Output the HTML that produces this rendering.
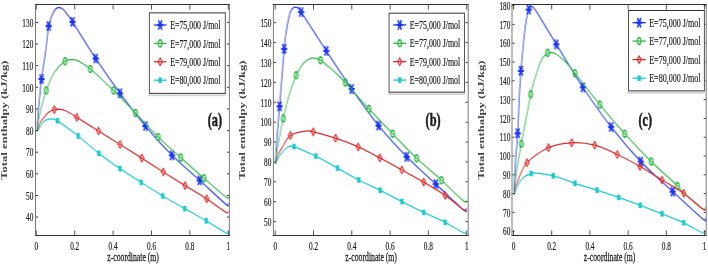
<!DOCTYPE html>
<html><head><meta charset="utf-8"><style>
html,body{margin:0;padding:0;background:#fff;width:708px;height:266px;overflow:hidden}
svg{display:block;filter:blur(0.3px)}
g{will-change:transform}
text{font-family:"Liberation Serif",serif;fill:#1a1a1a;stroke:#1a1a1a;stroke-width:0.2}
</style></head><body>
<svg width="708" height="266" viewBox="0 0 708 266" xmlns="http://www.w3.org/2000/svg">
<rect width="708" height="266" fill="#fff"/>
<g transform="scale(0.625,1)">
<path d="M59.52,131.4C59.63,129.67 59.79,124.9 60.16,121C60.53,117.1 61.17,112.33 61.76,108C62.35,103.67 62.91,99.83 63.68,95C64.45,90.17 64.8,86.5 66.4,79C68,71.5 71.36,58.83 73.28,50C75.2,41.17 76.53,31.33 77.92,26C79.31,20.67 80.35,20.28 81.6,18C82.85,15.72 84.16,13.82 85.44,12.3C86.72,10.78 87.89,9.67 89.28,8.9C90.67,8.13 91.89,7.68 93.76,7.7C95.63,7.72 98.11,7.83 100.48,9C102.85,10.17 105.41,12.57 108,14.7C110.59,16.83 108.48,14.5 116,21.8C123.52,29.1 140.45,46.58 153.12,58.5C165.79,70.42 178.75,82.05 192,93.3C205.25,104.55 218.77,115.67 232.64,126C246.51,136.33 260.72,146.25 275.2,155.3C289.68,164.35 305.15,172.13 319.52,180.3C333.89,188.47 353.84,200.48 361.44,204.3C369.04,208.12 364.51,203.38 365.12,203.2" stroke="#1c34f2" stroke-width="1.3" fill="none" stroke-linejoin="round"/>
<path d="M61.6,79L71.2,79M63.68,74.2L69.12,83.8M63.68,83.8L69.12,74.2" stroke="#1c34f2" stroke-width="2.3" fill="none"/>
<path d="M73.12,26L82.72,26M75.2,21.2L80.64,30.8M75.2,30.8L80.64,21.2" stroke="#1c34f2" stroke-width="2.3" fill="none"/>
<path d="M111.2,21.8L120.8,21.8M113.28,17L118.72,26.6M113.28,26.6L118.72,17" stroke="#1c34f2" stroke-width="2.3" fill="none"/>
<path d="M148.32,58.5L157.92,58.5M150.4,53.7L155.84,63.3M150.4,63.3L155.84,53.7" stroke="#1c34f2" stroke-width="2.3" fill="none"/>
<path d="M187.2,93.3L196.8,93.3M189.28,88.5L194.72,98.1M189.28,98.1L194.72,88.5" stroke="#1c34f2" stroke-width="2.3" fill="none"/>
<path d="M227.84,126L237.44,126M229.92,121.2L235.36,130.8M229.92,130.8L235.36,121.2" stroke="#1c34f2" stroke-width="2.3" fill="none"/>
<path d="M270.4,155.3L280,155.3M272.48,150.5L277.92,160.1M272.48,160.1L277.92,150.5" stroke="#1c34f2" stroke-width="2.3" fill="none"/>
<path d="M314.72,180.3L324.32,180.3M316.8,175.5L322.24,185.1M316.8,185.1L322.24,175.5" stroke="#1c34f2" stroke-width="2.3" fill="none"/>
<path d="M59.52,131.4C59.79,129.83 60.21,125.57 61.12,122C62.03,118.43 62.83,115.25 64.96,110C67.09,104.75 70.32,96.73 73.92,90.5C77.52,84.27 81.55,77.48 86.56,72.6C91.57,67.72 99.36,63.37 104,61.2C108.64,59.03 110.93,59.67 114.4,59.6C117.87,59.53 119.79,59.23 124.8,60.8C129.81,62.37 135.01,64.05 144.48,69C153.95,73.95 169.55,83.15 181.6,90.5C193.65,97.85 204.91,105.35 216.8,113.1C228.69,120.85 240.91,129.58 252.96,137C265.01,144.42 276.91,150.73 289.12,157.6C301.33,164.47 314.05,171.57 326.24,178.2C338.43,184.83 355.65,194.38 362.24,197.4C368.83,200.42 365.17,196.48 365.76,196.3" stroke="#2cba44" stroke-width="1.3" fill="none" stroke-linejoin="round"/>
<ellipse cx="73.92" cy="90.5" rx="3.04" ry="3.4" stroke="#2cba44" stroke-width="1.8" fill="none"/>
<ellipse cx="104" cy="61.2" rx="3.04" ry="3.4" stroke="#2cba44" stroke-width="1.8" fill="none"/>
<ellipse cx="144.48" cy="69" rx="3.04" ry="3.4" stroke="#2cba44" stroke-width="1.8" fill="none"/>
<ellipse cx="181.6" cy="90.5" rx="3.04" ry="3.4" stroke="#2cba44" stroke-width="1.8" fill="none"/>
<ellipse cx="216.8" cy="113.1" rx="3.04" ry="3.4" stroke="#2cba44" stroke-width="1.8" fill="none"/>
<ellipse cx="252.96" cy="137" rx="3.04" ry="3.4" stroke="#2cba44" stroke-width="1.8" fill="none"/>
<ellipse cx="289.12" cy="157.6" rx="3.04" ry="3.4" stroke="#2cba44" stroke-width="1.8" fill="none"/>
<ellipse cx="326.24" cy="178.2" rx="3.04" ry="3.4" stroke="#2cba44" stroke-width="1.8" fill="none"/>
<path d="M59.52,131.4C60.37,129.87 62.83,124.48 64.64,122.2C66.45,119.92 68.24,119.33 70.4,117.7C72.56,116.07 74.85,113.75 77.6,112.4C80.35,111.05 83.81,110.1 86.88,109.6C89.95,109.1 92.88,109.17 96,109.4C99.12,109.63 101.12,109.68 105.6,111C110.08,112.32 114.21,113.97 122.88,117.3C131.55,120.63 146.08,126.47 157.6,131C169.12,135.53 180.45,139.98 192,144.5C203.55,149.02 215.33,153.52 226.88,158.1C238.43,162.68 249.76,167.42 261.28,172C272.8,176.58 284.43,181.13 296,185.6C307.57,190.07 319.89,194.37 330.72,198.8C341.55,203.23 355.23,210.13 360.96,212.2C366.69,214.27 364.43,211.37 365.12,211.2" stroke="#de2626" stroke-width="1.3" fill="none" stroke-linejoin="round"/>
<path d="M86.88,105.9L90.08,109.6L86.88,113.3L83.68,109.6Z" stroke="#de2626" stroke-width="1.5" fill="none"/>
<path d="M122.88,113.6L126.08,117.3L122.88,121L119.68,117.3Z" stroke="#de2626" stroke-width="1.5" fill="none"/>
<path d="M157.6,127.3L160.8,131L157.6,134.7L154.4,131Z" stroke="#de2626" stroke-width="1.5" fill="none"/>
<path d="M192,140.8L195.2,144.5L192,148.2L188.8,144.5Z" stroke="#de2626" stroke-width="1.5" fill="none"/>
<path d="M226.88,154.4L230.08,158.1L226.88,161.8L223.68,158.1Z" stroke="#de2626" stroke-width="1.5" fill="none"/>
<path d="M261.28,168.3L264.48,172L261.28,175.7L258.08,172Z" stroke="#de2626" stroke-width="1.5" fill="none"/>
<path d="M296,181.9L299.2,185.6L296,189.3L292.8,185.6Z" stroke="#de2626" stroke-width="1.5" fill="none"/>
<path d="M330.72,195.1L333.92,198.8L330.72,202.5L327.52,198.8Z" stroke="#de2626" stroke-width="1.5" fill="none"/>
<path d="M59.52,131.4C60.27,130.67 62.45,128.52 64,127C65.55,125.48 67.07,123.48 68.8,122.3C70.53,121.12 72.13,120.48 74.4,119.9C76.67,119.32 79.47,118.65 82.4,118.8C85.33,118.95 88.4,119.58 92,120.8C95.6,122.02 98.48,123.57 104,126.1C109.52,128.63 116.11,131.47 125.12,136C134.13,140.53 146.93,147.87 158.08,153.3C169.23,158.73 180.69,163.75 192,168.6C203.31,173.45 214.53,177.83 225.92,182.4C237.31,186.97 248.72,191.62 260.32,196C271.92,200.38 283.92,204.57 295.52,208.7C307.12,212.83 318.8,216.73 329.92,220.8C341.04,224.87 356.21,231.4 362.24,233.1C368.27,234.8 365.44,231.35 366.08,231" stroke="#18cacd" stroke-width="1.3" fill="none" stroke-linejoin="round"/>
<rect x="89.36" y="118" width="5.28" height="5.6" fill="#18cacd"/>
<rect x="122.48" y="133.2" width="5.28" height="5.6" fill="#18cacd"/>
<rect x="155.44" y="150.5" width="5.28" height="5.6" fill="#18cacd"/>
<rect x="189.36" y="165.8" width="5.28" height="5.6" fill="#18cacd"/>
<rect x="223.28" y="179.6" width="5.28" height="5.6" fill="#18cacd"/>
<rect x="257.68" y="193.2" width="5.28" height="5.6" fill="#18cacd"/>
<rect x="292.88" y="205.9" width="5.28" height="5.6" fill="#18cacd"/>
<rect x="327.28" y="218" width="5.28" height="5.6" fill="#18cacd"/>
<path d="M440.96,163.9C441.04,162.25 441.01,158.82 441.44,154C441.87,149.18 442.53,142.95 443.52,135C444.51,127.05 445.49,120.67 447.36,106.3C449.23,91.93 452.96,61.18 454.72,48.8C456.48,36.42 456.77,36.97 457.92,32C459.07,27.03 460.4,22.47 461.6,19C462.8,15.53 463.84,13.07 465.12,11.2C466.4,9.33 467.73,8.45 469.28,7.8C470.83,7.15 472.93,7.17 474.4,7.3C475.87,7.43 476.85,7.82 478.08,8.6C479.31,9.38 474.43,4.95 481.76,12C489.09,19.05 508.59,38.05 522.08,50.9C535.57,63.75 548.8,76.65 562.72,89.1C576.64,101.55 590.93,114.32 605.6,125.6C620.27,136.88 635.44,147.05 650.72,156.8C666,166.55 682.13,175.25 697.28,184.1C712.43,192.95 733.47,205.88 741.6,209.9C749.73,213.92 745.33,208.48 746.08,208.2" stroke="#1c34f2" stroke-width="1.3" fill="none" stroke-linejoin="round"/>
<path d="M442.56,106.3L452.16,106.3M444.64,101.5L450.08,111.1M444.64,111.1L450.08,101.5" stroke="#1c34f2" stroke-width="2.3" fill="none"/>
<path d="M449.92,48.8L459.52,48.8M452,44L457.44,53.6M452,53.6L457.44,44" stroke="#1c34f2" stroke-width="2.3" fill="none"/>
<path d="M476.96,12L486.56,12M479.04,7.2L484.48,16.8M479.04,16.8L484.48,7.2" stroke="#1c34f2" stroke-width="2.3" fill="none"/>
<path d="M517.28,50.9L526.88,50.9M519.36,46.1L524.8,55.7M519.36,55.7L524.8,46.1" stroke="#1c34f2" stroke-width="2.3" fill="none"/>
<path d="M557.92,89.1L567.52,89.1M560,84.3L565.44,93.9M560,93.9L565.44,84.3" stroke="#1c34f2" stroke-width="2.3" fill="none"/>
<path d="M600.8,125.6L610.4,125.6M602.88,120.8L608.32,130.4M602.88,130.4L608.32,120.8" stroke="#1c34f2" stroke-width="2.3" fill="none"/>
<path d="M645.92,156.8L655.52,156.8M648,152L653.44,161.6M648,161.6L653.44,152" stroke="#1c34f2" stroke-width="2.3" fill="none"/>
<path d="M692.48,184.1L702.08,184.1M694.56,179.3L700,188.9M694.56,188.9L700,179.3" stroke="#1c34f2" stroke-width="2.3" fill="none"/>
<path d="M440.96,163.9C441.2,162.25 441.52,157.98 442.4,154C443.28,150.02 444.43,145.93 446.24,140C448.05,134.07 450.56,125.9 453.28,118.4C456,110.9 459.12,102.2 462.56,95C466,87.8 471.01,79.67 473.92,75.2C476.83,70.73 477.97,70.25 480,68.2C482.03,66.15 483.81,64.38 486.08,62.9C488.35,61.42 491.09,60.15 493.6,59.3C496.11,58.45 497.92,57.65 501.12,57.8C504.32,57.95 508.99,58.87 512.8,60.2C516.61,61.53 520.13,63.78 524,65.8C527.87,67.82 531.23,69.5 536,72.3C540.77,75.1 543.6,76.5 552.64,82.6C561.68,88.7 577.65,100.37 590.24,108.9C602.83,117.43 615.44,125.58 628.16,133.8C640.88,142.02 653.52,150.47 666.56,158.2C679.6,165.93 694.03,173.13 706.4,180.2C718.77,187.27 734.19,197.27 740.8,200.6C747.41,203.93 745.2,200.27 746.08,200.2" stroke="#2cba44" stroke-width="1.3" fill="none" stroke-linejoin="round"/>
<ellipse cx="453.28" cy="118.4" rx="3.04" ry="3.4" stroke="#2cba44" stroke-width="1.8" fill="none"/>
<ellipse cx="473.76" cy="75.3" rx="3.04" ry="3.4" stroke="#2cba44" stroke-width="1.8" fill="none"/>
<ellipse cx="512.8" cy="60.2" rx="3.04" ry="3.4" stroke="#2cba44" stroke-width="1.8" fill="none"/>
<ellipse cx="552.64" cy="82.6" rx="3.04" ry="3.4" stroke="#2cba44" stroke-width="1.8" fill="none"/>
<ellipse cx="590.24" cy="108.9" rx="3.04" ry="3.4" stroke="#2cba44" stroke-width="1.8" fill="none"/>
<ellipse cx="628.16" cy="133.8" rx="3.04" ry="3.4" stroke="#2cba44" stroke-width="1.8" fill="none"/>
<ellipse cx="666.56" cy="158.2" rx="3.04" ry="3.4" stroke="#2cba44" stroke-width="1.8" fill="none"/>
<ellipse cx="706.4" cy="180.2" rx="3.04" ry="3.4" stroke="#2cba44" stroke-width="1.8" fill="none"/>
<path d="M440.96,163.9C441.68,162.25 443.71,156.57 445.28,154C446.85,151.43 447.17,151.6 450.4,148.5C453.63,145.4 458.29,138.3 464.64,135.4C470.99,132.5 482.4,131.7 488.48,131.1C494.56,130.5 493.04,130.62 501.12,131.8C509.2,132.98 524.96,135.68 536.96,138.2C548.96,140.72 561.31,143.62 573.12,146.9C584.93,150.18 596.19,154.05 607.84,157.9C619.49,161.75 631.36,165.97 643.04,170C654.72,174.03 666.37,177.87 677.92,182.1C689.47,186.33 701.71,190.82 712.32,195.4C722.93,199.98 735.97,207.5 741.6,209.6C747.23,211.7 745.33,208.27 746.08,208" stroke="#de2626" stroke-width="1.3" fill="none" stroke-linejoin="round"/>
<path d="M464.64,131.7L467.84,135.4L464.64,139.1L461.44,135.4Z" stroke="#de2626" stroke-width="1.5" fill="none"/>
<path d="M501.12,128.1L504.32,131.8L501.12,135.5L497.92,131.8Z" stroke="#de2626" stroke-width="1.5" fill="none"/>
<path d="M536.96,134.5L540.16,138.2L536.96,141.9L533.76,138.2Z" stroke="#de2626" stroke-width="1.5" fill="none"/>
<path d="M573.12,143.2L576.32,146.9L573.12,150.6L569.92,146.9Z" stroke="#de2626" stroke-width="1.5" fill="none"/>
<path d="M607.84,154.2L611.04,157.9L607.84,161.6L604.64,157.9Z" stroke="#de2626" stroke-width="1.5" fill="none"/>
<path d="M643.04,166.3L646.24,170L643.04,173.7L639.84,170Z" stroke="#de2626" stroke-width="1.5" fill="none"/>
<path d="M677.92,178.4L681.12,182.1L677.92,185.8L674.72,182.1Z" stroke="#de2626" stroke-width="1.5" fill="none"/>
<path d="M712.32,191.7L715.52,195.4L712.32,199.1L709.12,195.4Z" stroke="#de2626" stroke-width="1.5" fill="none"/>
<path d="M440.96,163.9C442.24,162.35 445.6,157.33 448.64,154.6C451.68,151.87 456.16,148.93 459.2,147.5C462.24,146.07 464.99,146.15 466.88,146C468.77,145.85 464.16,144.92 470.56,146.6C476.96,148.28 493.71,152.52 505.28,156.1C516.85,159.68 528.56,164.12 540,168.1C551.44,172.08 562.53,176.3 573.92,180C585.31,183.7 596.8,186.7 608.32,190.3C619.84,193.9 631.44,197.92 643.04,201.6C654.64,205.28 666.37,208.95 677.92,212.4C689.47,215.85 701.65,218.88 712.32,222.3C722.99,225.72 736.21,231.4 741.92,232.9C747.63,234.4 745.79,231.57 746.56,231.3" stroke="#18cacd" stroke-width="1.3" fill="none" stroke-linejoin="round"/>
<rect x="467.92" y="143.8" width="5.28" height="5.6" fill="#18cacd"/>
<rect x="502.64" y="153.3" width="5.28" height="5.6" fill="#18cacd"/>
<rect x="537.36" y="165.3" width="5.28" height="5.6" fill="#18cacd"/>
<rect x="571.28" y="177.2" width="5.28" height="5.6" fill="#18cacd"/>
<rect x="605.68" y="187.5" width="5.28" height="5.6" fill="#18cacd"/>
<rect x="640.4" y="198.8" width="5.28" height="5.6" fill="#18cacd"/>
<rect x="675.28" y="209.6" width="5.28" height="5.6" fill="#18cacd"/>
<rect x="709.68" y="219.5" width="5.28" height="5.6" fill="#18cacd"/>
<path d="M822.72,195C822.75,193.5 822.51,191.83 822.88,186C823.25,180.17 824.05,168.78 824.96,160C825.87,151.22 827.31,144.13 828.32,133.3C829.33,122.47 830.19,105.42 831.04,95C831.89,84.58 832.4,79.13 833.44,70.8C834.48,62.47 836.29,51.47 837.28,45C838.27,38.53 838.56,36.17 839.36,32C840.16,27.83 841.04,23.58 842.08,20C843.12,16.42 844.4,12.73 845.6,10.5C846.8,8.27 847.95,7.05 849.28,6.6C850.61,6.15 851.81,6.68 853.6,7.8C855.39,8.92 857.12,10.52 860,13.3C862.88,16.08 865.87,19.33 870.88,24.5C875.89,29.67 879.79,33.82 890.08,44.3C900.37,54.78 918.03,73.62 932.64,87.4C947.25,101.18 962.32,114.63 977.76,127C993.2,139.37 1008.85,150.83 1025.28,161.6C1041.71,172.37 1059.65,181.97 1076.32,191.6C1092.99,201.23 1116.67,214.97 1125.28,219.4C1133.89,223.83 1127.55,218.4 1128,218.2" stroke="#1c34f2" stroke-width="1.3" fill="none" stroke-linejoin="round"/>
<path d="M823.52,133.3L833.12,133.3M825.6,128.5L831.04,138.1M825.6,138.1L831.04,128.5" stroke="#1c34f2" stroke-width="2.3" fill="none"/>
<path d="M828.64,70.8L838.24,70.8M830.72,66L836.16,75.6M830.72,75.6L836.16,66" stroke="#1c34f2" stroke-width="2.3" fill="none"/>
<path d="M841.28,9.6L850.88,9.6M843.36,4.8L848.8,14.4M843.36,14.4L848.8,4.8" stroke="#1c34f2" stroke-width="2.3" fill="none"/>
<path d="M885.28,44.3L894.88,44.3M887.36,39.5L892.8,49.1M887.36,49.1L892.8,39.5" stroke="#1c34f2" stroke-width="2.3" fill="none"/>
<path d="M927.84,87.4L937.44,87.4M929.92,82.6L935.36,92.2M929.92,92.2L935.36,82.6" stroke="#1c34f2" stroke-width="2.3" fill="none"/>
<path d="M972.96,127L982.56,127M975.04,122.2L980.48,131.8M975.04,131.8L980.48,122.2" stroke="#1c34f2" stroke-width="2.3" fill="none"/>
<path d="M1020.48,161.6L1030.08,161.6M1022.56,156.8L1028,166.4M1022.56,166.4L1028,156.8" stroke="#1c34f2" stroke-width="2.3" fill="none"/>
<path d="M1071.52,191.6L1081.12,191.6M1073.6,186.8L1079.04,196.4M1073.6,196.4L1079.04,186.8" stroke="#1c34f2" stroke-width="2.3" fill="none"/>
<path d="M822.72,195C822.88,193.5 823.01,190.17 823.68,186C824.35,181.83 824.99,177.03 826.72,170C828.45,162.97 830.35,156.42 834.08,143.8C837.81,131.18 846,104.1 849.12,94.3C852.24,84.5 850.99,89.05 852.8,85C854.61,80.95 857.55,74.45 860,70C862.45,65.55 864.75,61.1 867.52,58.3C870.29,55.5 874.13,54.15 876.64,53.2C879.15,52.25 880.4,52.47 882.56,52.6C884.72,52.73 886.83,52.97 889.6,54C892.37,55.03 895.6,56.75 899.2,58.8C902.8,60.85 907.73,63.87 911.2,66.3C914.67,68.73 911.92,67.02 920,73.4C928.08,79.78 946.43,94.53 959.68,104.6C972.93,114.67 985.81,124.3 999.52,133.8C1013.23,143.3 1027.84,152.93 1041.92,161.6C1056,170.27 1075.33,180.57 1084,185.8C1092.67,191.03 1087.12,189.1 1093.92,193C1100.72,196.9 1119.12,206.73 1124.8,209.2C1130.48,211.67 1127.47,208.03 1128,207.8" stroke="#2cba44" stroke-width="1.3" fill="none" stroke-linejoin="round"/>
<ellipse cx="834.08" cy="143.8" rx="3.04" ry="3.4" stroke="#2cba44" stroke-width="1.8" fill="none"/>
<ellipse cx="849.12" cy="94.3" rx="3.04" ry="3.4" stroke="#2cba44" stroke-width="1.8" fill="none"/>
<ellipse cx="876.16" cy="52.9" rx="3.04" ry="3.4" stroke="#2cba44" stroke-width="1.8" fill="none"/>
<ellipse cx="920" cy="73.2" rx="3.04" ry="3.4" stroke="#2cba44" stroke-width="1.8" fill="none"/>
<ellipse cx="959.68" cy="104.6" rx="3.04" ry="3.4" stroke="#2cba44" stroke-width="1.8" fill="none"/>
<ellipse cx="999.52" cy="133.8" rx="3.04" ry="3.4" stroke="#2cba44" stroke-width="1.8" fill="none"/>
<ellipse cx="1041.92" cy="161.6" rx="3.04" ry="3.4" stroke="#2cba44" stroke-width="1.8" fill="none"/>
<ellipse cx="1084" cy="186" rx="3.04" ry="3.4" stroke="#2cba44" stroke-width="1.8" fill="none"/>
<path d="M822.72,195C823.2,193.5 824.24,189 825.6,186C826.96,183 827.95,180.88 830.88,177C833.81,173.12 835.44,167.58 843.2,162.7C850.96,157.82 865.55,151.02 877.44,147.7C889.33,144.38 902.21,143.22 914.56,142.8C926.91,142.38 939.33,143.25 951.52,145.2C963.71,147.15 975.63,150.97 987.68,154.5C999.73,158.03 1011.92,162.15 1023.84,166.4C1035.76,170.65 1047.52,175.52 1059.2,180C1070.88,184.48 1082.99,188.45 1093.92,193.3C1104.85,198.15 1119.12,206.7 1124.8,209.1C1130.48,211.5 1127.47,207.93 1128,207.7" stroke="#de2626" stroke-width="1.3" fill="none" stroke-linejoin="round"/>
<path d="M843.2,159L846.4,162.7L843.2,166.4L840,162.7Z" stroke="#de2626" stroke-width="1.5" fill="none"/>
<path d="M877.44,144L880.64,147.7L877.44,151.4L874.24,147.7Z" stroke="#de2626" stroke-width="1.5" fill="none"/>
<path d="M914.56,139.1L917.76,142.8L914.56,146.5L911.36,142.8Z" stroke="#de2626" stroke-width="1.5" fill="none"/>
<path d="M951.52,141.5L954.72,145.2L951.52,148.9L948.32,145.2Z" stroke="#de2626" stroke-width="1.5" fill="none"/>
<path d="M987.68,150.8L990.88,154.5L987.68,158.2L984.48,154.5Z" stroke="#de2626" stroke-width="1.5" fill="none"/>
<path d="M1023.84,162.7L1027.04,166.4L1023.84,170.1L1020.64,166.4Z" stroke="#de2626" stroke-width="1.5" fill="none"/>
<path d="M1059.2,176.3L1062.4,180L1059.2,183.7L1056,180Z" stroke="#de2626" stroke-width="1.5" fill="none"/>
<path d="M1093.92,189.6L1097.12,193.3L1093.92,197L1090.72,193.3Z" stroke="#de2626" stroke-width="1.5" fill="none"/>
<path d="M822.72,195C823.6,193.5 826.45,188.25 828,186C829.55,183.75 830.27,183 832,181.5C833.73,180 835.39,178.33 838.4,177C841.41,175.67 847.15,174.17 850.08,173.5C853.01,172.83 850.16,172.62 856,173C861.84,173.38 874.45,174.08 885.12,175.8C895.79,177.52 908.32,180.92 920,183.3C931.68,185.68 943.55,187.75 955.2,190.1C966.85,192.45 978.4,194.87 989.92,197.4C1001.44,199.93 1012.77,202.57 1024.32,205.3C1035.87,208.03 1047.6,210.88 1059.2,213.8C1070.8,216.72 1082.91,219.57 1093.92,222.8C1104.93,226.03 1119.55,231.68 1125.28,233.2C1131.01,234.72 1127.81,232.12 1128.32,231.9" stroke="#18cacd" stroke-width="1.3" fill="none" stroke-linejoin="round"/>
<rect x="847.44" y="170.7" width="5.28" height="5.6" fill="#18cacd"/>
<rect x="882.48" y="173" width="5.28" height="5.6" fill="#18cacd"/>
<rect x="917.36" y="180.5" width="5.28" height="5.6" fill="#18cacd"/>
<rect x="952.56" y="187.3" width="5.28" height="5.6" fill="#18cacd"/>
<rect x="987.28" y="194.6" width="5.28" height="5.6" fill="#18cacd"/>
<rect x="1021.68" y="202.5" width="5.28" height="5.6" fill="#18cacd"/>
<rect x="1056.56" y="211" width="5.28" height="5.6" fill="#18cacd"/>
<rect x="1091.28" y="220" width="5.28" height="5.6" fill="#18cacd"/>
</g>
<path d="M35,4.5H229.9M35,235.5H229.9" stroke="#333" stroke-width="1"/>
<path d="M35.5,5V235M229.4,5V235" stroke="#7a7a7a" stroke-width="1"/>
<path d="M36.3,235v-4.6M36.3,5v4.6" stroke="#555" stroke-width="1"/>
<path d="M74.7,235v-4.6M74.7,5v4.6" stroke="#555" stroke-width="1"/>
<path d="M113.1,235v-4.6M113.1,5v4.6" stroke="#555" stroke-width="1"/>
<path d="M151.5,235v-4.6M151.5,5v4.6" stroke="#555" stroke-width="1"/>
<path d="M189.9,235v-4.6M189.9,5v4.6" stroke="#555" stroke-width="1"/>
<path d="M228.3,235v-4.6M228.3,5v4.6" stroke="#555" stroke-width="1"/>
<path d="M36,217.1h2M228.9,217.1h-2" stroke="#333" stroke-width="1"/>
<path d="M36,195.46h2M228.9,195.46h-2" stroke="#333" stroke-width="1"/>
<path d="M36,173.83h2M228.9,173.83h-2" stroke="#333" stroke-width="1"/>
<path d="M36,152.2h2M228.9,152.2h-2" stroke="#333" stroke-width="1"/>
<path d="M36,130.56h2M228.9,130.56h-2" stroke="#333" stroke-width="1"/>
<path d="M36,108.93h2M228.9,108.93h-2" stroke="#333" stroke-width="1"/>
<path d="M36,87.3h2M228.9,87.3h-2" stroke="#333" stroke-width="1"/>
<path d="M36,65.67h2M228.9,65.67h-2" stroke="#333" stroke-width="1"/>
<path d="M36,44.03h2M228.9,44.03h-2" stroke="#333" stroke-width="1"/>
<path d="M36,22.4h2M228.9,22.4h-2" stroke="#333" stroke-width="1"/>
<rect x="147.9" y="94.6" width="77.9" height="1.5" fill="#cfcfcf"/>
<rect x="149.4" y="12.9" width="75.9" height="80.5" fill="#fff"/>
<path d="M148.9,12.9H225.8M148.9,93.4H225.8" stroke="#333" stroke-width="1"/>
<path d="M149.4,12.9V93.4M225.3,12.9V93.4" stroke="#555" stroke-width="1"/>
<path d="M272.9,4.5H468.7M272.9,235.5H468.7" stroke="#333" stroke-width="1"/>
<path d="M273.4,5V235M468.2,5V235" stroke="#7a7a7a" stroke-width="1"/>
<path d="M275.2,235v-4.6M275.2,5v4.6" stroke="#555" stroke-width="1"/>
<path d="M313.5,235v-4.6M313.5,5v4.6" stroke="#555" stroke-width="1"/>
<path d="M351.8,235v-4.6M351.8,5v4.6" stroke="#555" stroke-width="1"/>
<path d="M390.1,235v-4.6M390.1,5v4.6" stroke="#555" stroke-width="1"/>
<path d="M428.4,235v-4.6M428.4,5v4.6" stroke="#555" stroke-width="1"/>
<path d="M466.7,235v-4.6M466.7,5v4.6" stroke="#555" stroke-width="1"/>
<path d="M273.9,221.6h2M467.7,221.6h-2" stroke="#333" stroke-width="1"/>
<path d="M273.9,201.71h2M467.7,201.71h-2" stroke="#333" stroke-width="1"/>
<path d="M273.9,181.82h2M467.7,181.82h-2" stroke="#333" stroke-width="1"/>
<path d="M273.9,161.93h2M467.7,161.93h-2" stroke="#333" stroke-width="1"/>
<path d="M273.9,142.04h2M467.7,142.04h-2" stroke="#333" stroke-width="1"/>
<path d="M273.9,122.15h2M467.7,122.15h-2" stroke="#333" stroke-width="1"/>
<path d="M273.9,102.26h2M467.7,102.26h-2" stroke="#333" stroke-width="1"/>
<path d="M273.9,82.37h2M467.7,82.37h-2" stroke="#333" stroke-width="1"/>
<path d="M273.9,62.48h2M467.7,62.48h-2" stroke="#333" stroke-width="1"/>
<path d="M273.9,42.59h2M467.7,42.59h-2" stroke="#333" stroke-width="1"/>
<path d="M273.9,22.7h2M467.7,22.7h-2" stroke="#333" stroke-width="1"/>
<rect x="387.6" y="93.4" width="77.4" height="1.5" fill="#cfcfcf"/>
<rect x="389.1" y="13.2" width="75.4" height="79" fill="#fff"/>
<path d="M388.6,13.2H465M388.6,92.2H465" stroke="#333" stroke-width="1"/>
<path d="M389.1,13.2V92.2M464.5,13.2V92.2" stroke="#555" stroke-width="1"/>
<path d="M511.5,4.5H706.7M511.5,235.5H706.7" stroke="#333" stroke-width="1"/>
<path d="M512,5V235M706.2,5V235" stroke="#7a7a7a" stroke-width="1"/>
<path d="M513.5,235v-4.6M513.5,5v4.6" stroke="#555" stroke-width="1"/>
<path d="M551.72,235v-4.6M551.72,5v4.6" stroke="#555" stroke-width="1"/>
<path d="M589.94,235v-4.6M589.94,5v4.6" stroke="#555" stroke-width="1"/>
<path d="M628.16,235v-4.6M628.16,5v4.6" stroke="#555" stroke-width="1"/>
<path d="M666.38,235v-4.6M666.38,5v4.6" stroke="#555" stroke-width="1"/>
<path d="M704.6,235v-4.6M704.6,5v4.6" stroke="#555" stroke-width="1"/>
<path d="M512.5,231.2h2M705.7,231.2h-2" stroke="#333" stroke-width="1"/>
<path d="M512.5,212.4h2M705.7,212.4h-2" stroke="#333" stroke-width="1"/>
<path d="M512.5,193.6h2M705.7,193.6h-2" stroke="#333" stroke-width="1"/>
<path d="M512.5,174.8h2M705.7,174.8h-2" stroke="#333" stroke-width="1"/>
<path d="M512.5,156h2M705.7,156h-2" stroke="#333" stroke-width="1"/>
<path d="M512.5,137.2h2M705.7,137.2h-2" stroke="#333" stroke-width="1"/>
<path d="M512.5,118.4h2M705.7,118.4h-2" stroke="#333" stroke-width="1"/>
<path d="M512.5,99.6h2M705.7,99.6h-2" stroke="#333" stroke-width="1"/>
<path d="M512.5,80.8h2M705.7,80.8h-2" stroke="#333" stroke-width="1"/>
<path d="M512.5,62h2M705.7,62h-2" stroke="#333" stroke-width="1"/>
<path d="M512.5,43.2h2M705.7,43.2h-2" stroke="#333" stroke-width="1"/>
<path d="M512.5,24.4h2M705.7,24.4h-2" stroke="#333" stroke-width="1"/>
<path d="M512.5,5.6h2M705.7,5.6h-2" stroke="#333" stroke-width="1"/>
<rect x="627" y="92.1" width="77.9" height="1.5" fill="#cfcfcf"/>
<rect x="628.5" y="10.5" width="75.9" height="80.4" fill="#fff"/>
<path d="M628,10.5H704.9M628,90.9H704.9" stroke="#333" stroke-width="1"/>
<path d="M628.5,10.5V90.9M704.4,10.5V90.9" stroke="#555" stroke-width="1"/>
<g transform="scale(0.625,1)">
<path d="M246.08,25H266.56" stroke="#1c34f2" stroke-width="1.3"/>
<path d="M251.52,25L261.12,25M253.6,20.2L259.04,29.8M253.6,29.8L259.04,20.2" stroke="#1c34f2" stroke-width="2.3" fill="none"/>
<path d="M246.08,43.4H266.56" stroke="#2cba44" stroke-width="1.3"/>
<ellipse cx="256.32" cy="43.4" rx="3.04" ry="3.4" stroke="#2cba44" stroke-width="1.8" fill="none"/>
<path d="M246.08,61.8H266.56" stroke="#de2626" stroke-width="1.3"/>
<path d="M256.32,58.1L259.52,61.8L256.32,65.5L253.12,61.8Z" stroke="#de2626" stroke-width="1.5" fill="none"/>
<path d="M246.08,80.2H266.56" stroke="#18cacd" stroke-width="1.3"/>
<rect x="253.68" y="77.4" width="5.28" height="5.6" fill="#18cacd"/>
<path d="M629.12,24.9H650.08" stroke="#1c34f2" stroke-width="1.3"/>
<path d="M634.8,24.9L644.4,24.9M636.88,20.1L642.32,29.7M636.88,29.7L642.32,20.1" stroke="#1c34f2" stroke-width="2.3" fill="none"/>
<path d="M629.12,43.3H650.08" stroke="#2cba44" stroke-width="1.3"/>
<ellipse cx="639.6" cy="43.3" rx="3.04" ry="3.4" stroke="#2cba44" stroke-width="1.8" fill="none"/>
<path d="M629.12,61.7H650.08" stroke="#de2626" stroke-width="1.3"/>
<path d="M639.6,58L642.8,61.7L639.6,65.4L636.4,61.7Z" stroke="#de2626" stroke-width="1.5" fill="none"/>
<path d="M629.12,80.1H650.08" stroke="#18cacd" stroke-width="1.3"/>
<rect x="636.96" y="77.3" width="5.28" height="5.6" fill="#18cacd"/>
<path d="M1012,22.7H1033.44" stroke="#1c34f2" stroke-width="1.3"/>
<path d="M1017.92,22.7L1027.52,22.7M1020,17.9L1025.44,27.5M1020,27.5L1025.44,17.9" stroke="#1c34f2" stroke-width="2.3" fill="none"/>
<path d="M1012,41.1H1033.44" stroke="#2cba44" stroke-width="1.3"/>
<ellipse cx="1022.72" cy="41.1" rx="3.04" ry="3.4" stroke="#2cba44" stroke-width="1.8" fill="none"/>
<path d="M1012,59.6H1033.44" stroke="#de2626" stroke-width="1.3"/>
<path d="M1022.72,55.9L1025.92,59.6L1022.72,63.3L1019.52,59.6Z" stroke="#de2626" stroke-width="1.5" fill="none"/>
<path d="M1012,78.2H1033.44" stroke="#18cacd" stroke-width="1.3"/>
<rect x="1020.08" y="75.4" width="5.28" height="5.6" fill="#18cacd"/>
</g>
<g transform="scale(0.585,1)">
<text x="62.05" y="250.4" font-size="12.9" text-anchor="middle" textLength="6.23" lengthAdjust="spacingAndGlyphs">0</text>
<text x="127.69" y="250.4" font-size="12.9" text-anchor="middle" textLength="15.57" lengthAdjust="spacingAndGlyphs">0.2</text>
<text x="193.33" y="250.4" font-size="12.9" text-anchor="middle" textLength="15.57" lengthAdjust="spacingAndGlyphs">0.4</text>
<text x="258.97" y="250.4" font-size="12.9" text-anchor="middle" textLength="15.57" lengthAdjust="spacingAndGlyphs">0.6</text>
<text x="324.62" y="250.4" font-size="12.9" text-anchor="middle" textLength="15.57" lengthAdjust="spacingAndGlyphs">0.8</text>
<text x="390.26" y="250.4" font-size="12.9" text-anchor="middle" textLength="6.23" lengthAdjust="spacingAndGlyphs">1</text>
<text x="56.92" y="221.4" font-size="12.9" text-anchor="end" textLength="12.46" lengthAdjust="spacingAndGlyphs">40</text>
<text x="56.92" y="199.76" font-size="12.9" text-anchor="end" textLength="12.46" lengthAdjust="spacingAndGlyphs">50</text>
<text x="56.92" y="178.13" font-size="12.9" text-anchor="end" textLength="12.46" lengthAdjust="spacingAndGlyphs">60</text>
<text x="56.92" y="156.5" font-size="12.9" text-anchor="end" textLength="12.46" lengthAdjust="spacingAndGlyphs">70</text>
<text x="56.92" y="134.87" font-size="12.9" text-anchor="end" textLength="12.46" lengthAdjust="spacingAndGlyphs">80</text>
<text x="56.92" y="113.23" font-size="12.9" text-anchor="end" textLength="12.46" lengthAdjust="spacingAndGlyphs">90</text>
<text x="56.92" y="91.6" font-size="12.9" text-anchor="end" textLength="18.69" lengthAdjust="spacingAndGlyphs">100</text>
<text x="56.92" y="69.97" font-size="12.9" text-anchor="end" textLength="18.69" lengthAdjust="spacingAndGlyphs">110</text>
<text x="56.92" y="48.33" font-size="12.9" text-anchor="end" textLength="18.69" lengthAdjust="spacingAndGlyphs">120</text>
<text x="56.92" y="26.7" font-size="12.9" text-anchor="end" textLength="18.69" lengthAdjust="spacingAndGlyphs">130</text>
<text x="227.52" y="261.4" font-size="12.6" text-anchor="middle" style="stroke-width:0.25" textLength="88.21" lengthAdjust="spacingAndGlyphs">z-coordinate (m)</text>
<text transform="translate(12.14,120.1) rotate(-90)" font-size="12.6" font-weight="bold" text-anchor="middle" style="stroke-width:0;fill:#454545">Total enthalpy (kJ/kg)</text>
<text x="355.04" y="126.3" font-size="18.6" font-weight="bold" style="stroke-width:0.5" textLength="24.44" lengthAdjust="spacingAndGlyphs">(a)</text>
<text x="290.94" y="29.2" font-size="13.0" textLength="85.98" lengthAdjust="spacingAndGlyphs">E=75,000 J/mol</text>
<text x="290.94" y="47.6" font-size="13.0" textLength="85.98" lengthAdjust="spacingAndGlyphs">E=77,000 J/mol</text>
<text x="290.94" y="66" font-size="13.0" textLength="85.98" lengthAdjust="spacingAndGlyphs">E=79,000 J/mol</text>
<text x="290.94" y="84.4" font-size="13.0" textLength="85.98" lengthAdjust="spacingAndGlyphs">E=80,000 J/mol</text>
<text x="470.43" y="250.4" font-size="12.9" text-anchor="middle" textLength="6.23" lengthAdjust="spacingAndGlyphs">0</text>
<text x="535.9" y="250.4" font-size="12.9" text-anchor="middle" textLength="15.57" lengthAdjust="spacingAndGlyphs">0.2</text>
<text x="601.37" y="250.4" font-size="12.9" text-anchor="middle" textLength="15.57" lengthAdjust="spacingAndGlyphs">0.4</text>
<text x="666.84" y="250.4" font-size="12.9" text-anchor="middle" textLength="15.57" lengthAdjust="spacingAndGlyphs">0.6</text>
<text x="732.31" y="250.4" font-size="12.9" text-anchor="middle" textLength="15.57" lengthAdjust="spacingAndGlyphs">0.8</text>
<text x="797.78" y="250.4" font-size="12.9" text-anchor="middle" textLength="6.23" lengthAdjust="spacingAndGlyphs">1</text>
<text x="463.93" y="225.9" font-size="12.9" text-anchor="end" textLength="12.46" lengthAdjust="spacingAndGlyphs">50</text>
<text x="463.93" y="206.01" font-size="12.9" text-anchor="end" textLength="12.46" lengthAdjust="spacingAndGlyphs">60</text>
<text x="463.93" y="186.12" font-size="12.9" text-anchor="end" textLength="12.46" lengthAdjust="spacingAndGlyphs">70</text>
<text x="463.93" y="166.23" font-size="12.9" text-anchor="end" textLength="12.46" lengthAdjust="spacingAndGlyphs">80</text>
<text x="463.93" y="146.34" font-size="12.9" text-anchor="end" textLength="12.46" lengthAdjust="spacingAndGlyphs">90</text>
<text x="463.93" y="126.45" font-size="12.9" text-anchor="end" textLength="18.69" lengthAdjust="spacingAndGlyphs">100</text>
<text x="463.93" y="106.56" font-size="12.9" text-anchor="end" textLength="18.69" lengthAdjust="spacingAndGlyphs">110</text>
<text x="463.93" y="86.67" font-size="12.9" text-anchor="end" textLength="18.69" lengthAdjust="spacingAndGlyphs">120</text>
<text x="463.93" y="66.78" font-size="12.9" text-anchor="end" textLength="18.69" lengthAdjust="spacingAndGlyphs">130</text>
<text x="463.93" y="46.89" font-size="12.9" text-anchor="end" textLength="18.69" lengthAdjust="spacingAndGlyphs">140</text>
<text x="463.93" y="27" font-size="12.9" text-anchor="end" textLength="18.69" lengthAdjust="spacingAndGlyphs">150</text>
<text x="634.44" y="261.4" font-size="12.6" text-anchor="middle" style="stroke-width:0.25" textLength="88.21" lengthAdjust="spacingAndGlyphs">z-coordinate (m)</text>
<text transform="translate(419.15,120.1) rotate(-90)" font-size="12.6" font-weight="bold" text-anchor="middle" style="stroke-width:0;fill:#454545">Total enthalpy (kJ/kg)</text>
<text x="727.52" y="126.3" font-size="18.6" font-weight="bold" style="stroke-width:0.5" textLength="25.64" lengthAdjust="spacingAndGlyphs">(b)</text>
<text x="700.51" y="29.1" font-size="13.0" textLength="86.15" lengthAdjust="spacingAndGlyphs">E=75,000 J/mol</text>
<text x="700.51" y="47.5" font-size="13.0" textLength="86.15" lengthAdjust="spacingAndGlyphs">E=77,000 J/mol</text>
<text x="700.51" y="65.9" font-size="13.0" textLength="86.15" lengthAdjust="spacingAndGlyphs">E=79,000 J/mol</text>
<text x="700.51" y="84.3" font-size="13.0" textLength="86.15" lengthAdjust="spacingAndGlyphs">E=80,000 J/mol</text>
<text x="877.78" y="250.4" font-size="12.9" text-anchor="middle" textLength="6.23" lengthAdjust="spacingAndGlyphs">0</text>
<text x="943.11" y="250.4" font-size="12.9" text-anchor="middle" textLength="15.57" lengthAdjust="spacingAndGlyphs">0.2</text>
<text x="1008.44" y="250.4" font-size="12.9" text-anchor="middle" textLength="15.57" lengthAdjust="spacingAndGlyphs">0.4</text>
<text x="1073.78" y="250.4" font-size="12.9" text-anchor="middle" textLength="15.57" lengthAdjust="spacingAndGlyphs">0.6</text>
<text x="1139.11" y="250.4" font-size="12.9" text-anchor="middle" textLength="15.57" lengthAdjust="spacingAndGlyphs">0.8</text>
<text x="1204.44" y="250.4" font-size="12.9" text-anchor="middle" textLength="6.23" lengthAdjust="spacingAndGlyphs">1</text>
<text x="872.48" y="235.5" font-size="12.9" text-anchor="end" textLength="12.46" lengthAdjust="spacingAndGlyphs">60</text>
<text x="872.48" y="216.7" font-size="12.9" text-anchor="end" textLength="12.46" lengthAdjust="spacingAndGlyphs">70</text>
<text x="872.48" y="197.9" font-size="12.9" text-anchor="end" textLength="12.46" lengthAdjust="spacingAndGlyphs">80</text>
<text x="872.48" y="179.1" font-size="12.9" text-anchor="end" textLength="12.46" lengthAdjust="spacingAndGlyphs">90</text>
<text x="872.48" y="160.3" font-size="12.9" text-anchor="end" textLength="18.69" lengthAdjust="spacingAndGlyphs">100</text>
<text x="872.48" y="141.5" font-size="12.9" text-anchor="end" textLength="18.69" lengthAdjust="spacingAndGlyphs">110</text>
<text x="872.48" y="122.7" font-size="12.9" text-anchor="end" textLength="18.69" lengthAdjust="spacingAndGlyphs">120</text>
<text x="872.48" y="103.9" font-size="12.9" text-anchor="end" textLength="18.69" lengthAdjust="spacingAndGlyphs">130</text>
<text x="872.48" y="85.1" font-size="12.9" text-anchor="end" textLength="18.69" lengthAdjust="spacingAndGlyphs">140</text>
<text x="872.48" y="66.3" font-size="12.9" text-anchor="end" textLength="18.69" lengthAdjust="spacingAndGlyphs">150</text>
<text x="872.48" y="47.5" font-size="12.9" text-anchor="end" textLength="18.69" lengthAdjust="spacingAndGlyphs">160</text>
<text x="872.48" y="28.7" font-size="12.9" text-anchor="end" textLength="18.69" lengthAdjust="spacingAndGlyphs">170</text>
<text x="872.48" y="9.9" font-size="12.9" text-anchor="end" textLength="18.69" lengthAdjust="spacingAndGlyphs">180</text>
<text x="1042.14" y="261.4" font-size="12.6" text-anchor="middle" style="stroke-width:0.25" textLength="88.21" lengthAdjust="spacingAndGlyphs">z-coordinate (m)</text>
<text transform="translate(827.69,120.1) rotate(-90)" font-size="12.6" font-weight="bold" text-anchor="middle" style="stroke-width:0;fill:#454545">Total enthalpy (kJ/kg)</text>
<text x="1091.45" y="126.3" font-size="18.6" font-weight="bold" style="stroke-width:0.5" textLength="23.08" lengthAdjust="spacingAndGlyphs">(c)</text>
<text x="1109.74" y="26.9" font-size="13.0" textLength="87.86" lengthAdjust="spacingAndGlyphs">E=75,000 J/mol</text>
<text x="1109.74" y="45.3" font-size="13.0" textLength="87.86" lengthAdjust="spacingAndGlyphs">E=77,000 J/mol</text>
<text x="1109.74" y="63.8" font-size="13.0" textLength="87.86" lengthAdjust="spacingAndGlyphs">E=79,000 J/mol</text>
<text x="1109.74" y="82.4" font-size="13.0" textLength="87.86" lengthAdjust="spacingAndGlyphs">E=80,000 J/mol</text>
</g>
</svg>
</body></html>
